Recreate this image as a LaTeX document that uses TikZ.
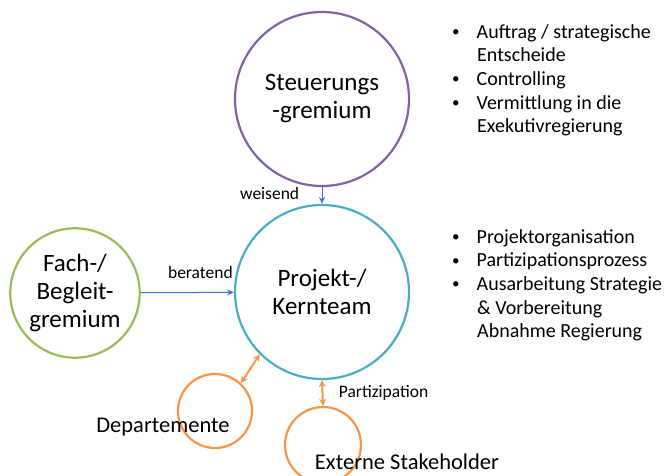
\documentclass[tikz,border=0pt]{standalone}
\usepackage{fontspec}
\setmainfont{Carlito}
\usetikzlibrary{arrows.meta}

\definecolor{steucol}{HTML}{8064A2}
\definecolor{kerncol}{HTML}{4BACC6}
\definecolor{fachcol}{HTML}{9BBB59}
\definecolor{partcol}{HTML}{F79646}
\definecolor{flowcol}{HTML}{4472C4}

\newcommand{\listdot}{{\fontsize{15}{0}\selectfont\raisebox{1.5pt}{\textbullet}}\hspace{17pt}}
\newcommand{\listgap}{\hspace{25pt}}

\tikzset{
  ring/.style={circle, line width=2.2pt, align=center, font=\fontsize{25}{28}\selectfont},
  flow/.style={flowcol, line width=1pt, -{Stealth[length=7pt,width=6pt]}},
  part/.style={partcol, line width=2pt, {Stealth[length=7pt,width=7pt]}-{Stealth[length=7pt,width=7pt]}},
  tag/.style={font=\fontsize{17.5}{20}\selectfont},
  bullets/.style={align=left, anchor=north west, font=\fontsize{20}{23.7}\selectfont, inner sep=0pt}
}

\begin{document}
\begin{tikzpicture}[x=1pt, y=-1pt]
    \useasboundingbox (0,0) rectangle (665,476);

    % Circles
    \node[ring, draw=steucol, minimum size=174pt] (steu) at (322,99) {Steuerungs\\-gremium};
    \node[ring, draw=kerncol, minimum size=174pt] (kern) at (322,292) {Projekt-/\\Kernteam};
    \node[ring, draw=fachcol, minimum size=126pt] (fach) at (75,293) {Fach-/\\Begleit-\\gremium};
    \node[circle, draw=partcol, line width=2.2pt, minimum size=74pt] (dept) at (215,411) {};
    \node[circle, draw=partcol, line width=2.2pt, minimum size=76pt] (ext) at (323,445) {};

    % Labels of the small circles
    \node[font=\fontsize{22.5}{26}\selectfont] (depttext) at (163,427) {Departemente};
    \node[font=\fontsize{22.5}{26}\selectfont] (exttext) at (407,462) {Externe Stakeholder};

    % Connections
    \draw[flow] (steu) -- (kern) node[pos=0.4, left=19pt, tag, black] {weisend};
    \draw[flow] (fach) -- (kern) node[pos=0.64, above=10pt, tag, black] {beratend};
    \draw[part] (dept.47) -- (kern.225);
    \draw[part] (kern.south) -- (ext.north) node[midway, right=12pt, tag, black] {Partizipation};

    % Bullet lists
    \node[bullets] (steulist) at (452,24) {%
      \listdot Auftrag / strategische\\
      \listgap Entscheide\\
      \listdot Controlling\\
      \listdot Vermittlung in die\\
      \listgap Exekutivregierung};
    \node[bullets] (kernlist) at (452,229) {%
      \listdot Projektorganisation\\
      \listdot Partizipationsprozess\\
      \listdot Ausarbeitung Strategie\\
      \listgap \& Vorbereitung\\
      \listgap Abnahme Regierung};
\end{tikzpicture}
\end{document}
